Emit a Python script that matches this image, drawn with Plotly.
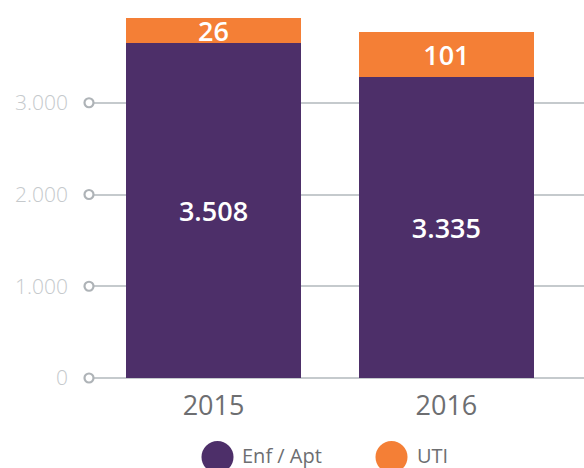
import plotly.graph_objects as go

# data
year_labels = ["2015", "2016"]
enf_heights = [3649, 3276]   # drawn heights of the purple segments
uti_heights = [273, 493]     # drawn heights of the orange segments
enf_labels = ["3.508", "3.335"]
uti_labels = ["26", "101"]
y_ticks = [0, 1000, 2000, 3000]

PURPLE = "#4d2f69"
ORANGE = "#f47f36"
GRID = "#c5cacd"
FONT = "Open Sans"

W, H = 584, 468
L, R, T, B = 89, 0, 0, 90
plot_w = W - L - R
plot_h = H - T - B

step = 232.9          # px between category centres
x0 = -(213.5 - L) / step
x1 = x0 + plot_w / step
y_max = 4120

xpos = list(range(len(year_labels)))

fig = go.Figure()

for name, vals, labels, color in [
    ("Enf / Apt", enf_heights, enf_labels, PURPLE),
    ("UTI", uti_heights, uti_labels, ORANGE),
]:
    fig.add_trace(
        go.Bar(
            x=xpos,
            y=vals,
            width=0.753,
            name=name,
            marker=dict(color=color, line=dict(width=0)),
            text=labels,
            textposition="inside",
            insidetextanchor="middle",
            textangle=0,
            constraintext="none",
            textfont=dict(family=FONT, size=27, color="white", weight=600),
            hoverinfo="skip",
            showlegend=False,
        )
    )

# little rings at the left end of each gridline
fig.add_trace(
    go.Scatter(
        x=[x0] * len(y_ticks),
        y=y_ticks,
        mode="markers",
        marker=dict(symbol="circle", size=9, color="white",
                    line=dict(color="#aeb3b7", width=2.2)),
        cliponaxis=False,
        hoverinfo="skip",
        showlegend=False,
    )
)

# hand-made legend with big dots
legend_items = [("Enf / Apt", PURPLE, 217.5, 240), ("UTI", ORANGE, 391.5, 415)]
dot_y = (plot_h - 457) / plot_h
text_y = (plot_h - 455) / plot_h
for label, color, cx, tx in legend_items:
    fig.add_shape(
        type="circle",
        xref="paper", yref="paper",
        xsizemode="pixel", ysizemode="pixel",
        xanchor=(cx - L) / plot_w, yanchor=dot_y,
        x0=-16, x1=16, y0=-16, y1=16,
        fillcolor=color, line=dict(width=0),
    )
    fig.add_annotation(
        text=label,
        xref="paper", yref="paper",
        x=(tx - L) / plot_w, y=text_y,
        xanchor="left", yanchor="middle",
        showarrow=False,
        font=dict(family=FONT, size=20, color="#6d6e71"),
    )

fig.update_layout(
    width=W,
    height=H,
    barmode="stack",
    separators=",.",
    plot_bgcolor="white",
    paper_bgcolor="white",
    margin=dict(l=L, r=R, t=T, b=B),
    xaxis=dict(
        range=[x0, x1],
        tickvals=xpos,
        ticktext=year_labels,
        showgrid=False,
        zeroline=False,
        showline=False,
        ticks="",
        tickfont=dict(family=FONT, size=27, color="#6d6e71"),
        ticklabelstandoff=9,
        fixedrange=True,
    ),
    yaxis=dict(
        range=[0, y_max],
        tickvals=y_ticks,
        tickformat=",d",
        showgrid=True,
        gridcolor=GRID,
        gridwidth=2,
        zeroline=True,
        zerolinecolor=GRID,
        zerolinewidth=2,
        showline=False,
        ticks="",
        tickfont=dict(family=FONT, size=21, color="#c5c9cc", weight=300),
        ticklabelstandoff=20,
        fixedrange=True,
    ),
)

fig.write_html(
    "out.html",
    config={"displayModeBar": False},
    post_script="document.body.style.margin='0';",
)
